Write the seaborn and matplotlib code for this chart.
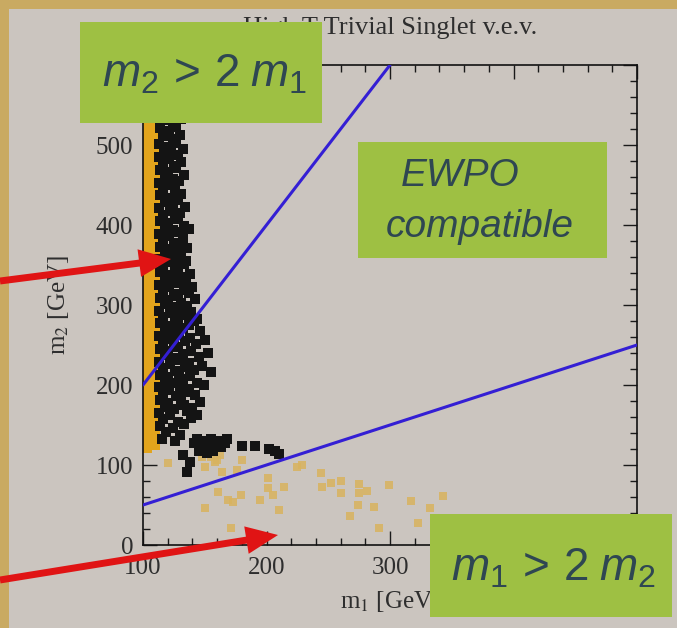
import matplotlib
matplotlib.use("Agg")
import matplotlib.pyplot as plt
import pandas as pd
import seaborn as sns
from matplotlib.patches import Rectangle, FancyArrowPatch
from matplotlib.ticker import MultipleLocator

# ---------------- scan points: m1 vs m2 [GeV] ----------------
# dense gold column along the m1 = 100 GeV edge (two columns of points)
strip_m1_left = 103
strip_m1_right = 109.5
strip_m2_left = [121, 128, 137, 144, 151, 160, 167, 175, 182, 190, 199, 206, 213, 221,
                 230, 237, 245, 252, 260, 268, 275, 284, 291, 298, 306, 315, 322, 330,
                 337, 345, 353, 361, 368, 376, 384, 392, 399, 407, 415, 423, 430, 438,
                 446, 454, 461, 469, 477, 485, 492, 500, 508, 516, 523, 531, 539, 547,
                 555, 563, 570, 578, 586, 594]
strip_m2_right = [125, 133, 141, 149, 157, 164, 172, 180, 188, 195, 203, 210, 218, 226,
                  234, 241, 249, 257, 264, 272, 280, 287, 295, 303, 311, 318, 326, 334,
                  341, 349, 357, 364, 372, 380, 388, 395, 403, 411, 419, 426, 434, 442,
                  450, 457, 465, 473, 481, 488, 496, 504, 512, 519, 527, 535, 543, 551,
                  559, 566, 574, 582, 590, 598]

# black points: vertical band near m1 ~ 115-150 plus a low-mass clump
black_m1 = [
    116, 124, 130,
    113, 121, 128,
    118, 126,
    114, 122, 130,
    117, 125,
    113, 120, 128,
    117, 124, 131,
    114, 121, 127,
    116, 124, 130,
    113, 119, 127,
    117, 123, 132,
    113, 121, 128,
    116, 125, 131,
    114, 120, 127,
    118, 124, 133,
    113, 121, 129,
    116, 126,
    114, 120, 131,
    118, 124, 128,
    113, 122, 134,
    116, 126, 130,
    114, 120, 128,
    118, 124, 133, 137,
    113, 121, 129,
    116, 125, 132,
    114, 120, 128, 136,
    118, 124, 131,
    113, 122, 129, 135,
    116, 126, 133,
    114, 120, 128, 138,
    118, 124, 131, 135,
    113, 121, 129, 140,
    116, 125, 133, 137,
    114, 120, 128, 142,
    118, 124, 131, 136,
    113, 122, 129, 139,
    116, 126, 134, 144,
    114, 120, 128, 137, 141,
    118, 124, 132, 146,
    113, 121, 129, 138,
    116, 125, 134, 143, 150,
    114, 120, 128, 139,
    118, 124, 132, 145, 153,
    113, 122, 130, 137,
    116, 126, 134, 141, 148,
    114, 120, 129, 138, 155,
    118, 124, 132, 144,
    113, 121, 130, 137, 149,
    116, 127, 135, 142,
    114, 120, 131, 146,
    118, 125, 133, 140,
    113, 122, 136, 144,
    116, 128, 139,
    114, 124, 133,
    119, 130,
    115, 126,
    141, 144, 146, 149, 151, 153, 155, 157, 159, 161, 163, 166,
    168, 145, 152, 180, 191, 202, 207, 210, 132, 138, 136,
]
black_m2 = [
    592, 588, 595,
    581, 578, 583,
    571, 568,
    561, 557, 563,
    551, 548,
    541, 538, 543,
    531, 528, 533,
    521, 517, 523,
    511, 508, 513,
    501, 498, 503,
    493, 490, 495,
    485, 482, 487,
    477, 474, 479,
    469, 466, 471,
    461, 458, 463,
    453, 450, 455,
    445, 442,
    437, 434, 439,
    429, 426, 431,
    421, 418, 423,
    413, 410, 415,
    405, 402, 407,
    397, 394, 399, 395,
    389, 386, 391,
    381, 378, 383,
    373, 370, 375, 371,
    365, 362, 367,
    357, 354, 359, 355,
    349, 346, 351,
    341, 338, 343, 339,
    333, 330, 335, 331,
    325, 322, 327, 323,
    317, 314, 319, 315,
    309, 306, 311, 307,
    301, 298, 303, 299,
    293, 290, 295, 291,
    285, 282, 287, 283,
    277, 274, 279, 275, 280,
    269, 266, 271, 267,
    261, 258, 263, 259,
    253, 250, 255, 251, 256,
    245, 242, 247, 243,
    237, 234, 239, 235, 240,
    229, 226, 231, 227,
    221, 218, 223, 219, 224,
    213, 210, 215, 211, 216,
    205, 202, 207, 203,
    197, 194, 199, 195, 200,
    189, 186, 191, 187,
    181, 178, 183, 179,
    173, 170, 175, 171,
    165, 162, 167, 163,
    157, 154, 159,
    149, 146, 151,
    141, 138,
    133, 130,
    128, 133, 124, 130, 121, 127, 133, 118, 125, 130, 122, 127,
    132, 118, 115, 124, 124, 120, 117, 114, 112, 104, 91,
]

# pale gold points scattered below the m1 = 2 m2 line
gold_m1 = [120, 148, 150, 155, 158, 160, 162, 164, 176, 180,
           225, 229, 244, 245, 252, 260, 260, 201, 201, 214,
           205, 195, 179, 169, 173, 161, 150, 210, 171, 275,
           275, 281, 299, 274, 268, 287, 291, 317, 332, 343, 323]
gold_m2 = [102, 110, 98, 110, 104, 106, 113, 91, 94, 106,
           98, 100, 90, 73, 77, 80, 65, 84, 71, 73,
           62, 56, 62, 56, 54, 66, 46, 44, 21, 76,
           65, 68, 75, 50, 36, 47, 21, 55, 46, 61, 27]

# kinematic boundaries
edge_a_m1 = [100, 300]   # m2 = 2 m1
edge_a_m2 = [200, 600]
edge_b_m1 = [100, 500]   # m1 = 2 m2
edge_b_m2 = [50, 250]

title_text = "High T Trivial Singlet v.e.v."
x_ticks = [100, 200, 300, 400, 500]
x_ticklabels = ["100", "200", "300", "", ""]
y_ticks = [0, 100, 200, 300, 400, 500, 600]
y_ticklabels = ["0", "100", "200", "300", "400", "500", ""]
x_range = (100, 500)
y_range = (0, 600)

# ---------------- styling ----------------
BG = "#cbc5bf"
FRAME = "#c9aa62"
GREEN = "#9ec043"
BOX_TXT = "#2f4752"
STRIP = "#e2a41c"
PALE = "#d9b35e"
DOT = "#141414"
BLUE = "#341fd4"
RED = "#e01414"
INK = "#2e2e2e"

sns.set_theme(style="ticks")
plt.rcParams["font.family"] = ["Liberation Serif", "DejaVu Serif"]
plt.rcParams["mathtext.rm"] = "Liberation Sans"
plt.rcParams["mathtext.it"] = "Liberation Sans:italic"

W, H = 677, 628
fig = plt.figure(figsize=(W / 100, H / 100), dpi=100)
fig.patch.set_facecolor(BG)

# slide frame
fig.add_artist(Rectangle((0, 1 - 9 / H), 1, 9 / H, transform=fig.transFigure,
                         color=FRAME, lw=0, zorder=0))
fig.add_artist(Rectangle((0, 0), 9 / W, 1, transform=fig.transFigure,
                         color=FRAME, lw=0, zorder=0))

ax = fig.add_axes([143 / W, 83 / H, 494 / W, 480 / H])
ax.set_facecolor(BG)

strip_df = pd.concat([
    pd.DataFrame({"m1": strip_m1_left, "m2": strip_m2_left}),
    pd.DataFrame({"m1": strip_m1_right, "m2": strip_m2_right}),
])
black_df = pd.DataFrame({"m1": black_m1, "m2": black_m2})
gold_df = pd.DataFrame({"m1": gold_m1, "m2": gold_m2})

sns.scatterplot(data=strip_df, x="m1", y="m2", ax=ax, marker="s", s=42,
                color=STRIP, linewidth=0, zorder=2)
sns.scatterplot(data=gold_df, x="m1", y="m2", ax=ax, marker="s", s=27,
                color=PALE, alpha=0.85, linewidth=0, zorder=2)
sns.scatterplot(data=black_df, x="m1", y="m2", ax=ax, marker="s", s=42,
                color=DOT, linewidth=0, zorder=3)

sns.lineplot(x=edge_a_m1, y=edge_a_m2, ax=ax, color=BLUE, lw=2.2,
             estimator=None, zorder=4)
sns.lineplot(x=edge_b_m1, y=edge_b_m2, ax=ax, color=BLUE, lw=2.2,
             estimator=None, zorder=4)

ax.set_xlim(*x_range)
ax.set_ylim(*y_range)
ax.set_xticks(x_ticks, x_ticklabels)
ax.set_yticks(y_ticks, y_ticklabels)
ax.xaxis.set_minor_locator(MultipleLocator(20))
ax.yaxis.set_minor_locator(MultipleLocator(20))
ax.tick_params(which="both", direction="in", top=True, right=True,
               color="#1a1a1a", width=1.0)
ax.tick_params(which="major", length=10, labelsize=18, labelcolor=INK)
ax.tick_params(axis="y", which="major", pad=7)
ax.tick_params(axis="x", which="major", pad=9)
ax.tick_params(which="minor", length=5)
for sp in ax.spines.values():
    sp.set_color("#111111")
    sp.set_linewidth(1.2)

ax.set_xlabel(r"m$_1$ [GeV]", fontsize=18, color=INK, labelpad=7,
              math_fontfamily="stix")
ax.set_ylabel(r"m$_2$ [GeV]", fontsize=18, color=INK, labelpad=18,
              math_fontfamily="stix")
ax.set_title(title_text, fontsize=19, color=INK, pad=22)


def px_box(x0, y0, x1, y1):
    """Green label panel given in pixel corners (top-left origin)."""
    fig.add_artist(Rectangle((x0 / W, 1 - y1 / H), (x1 - x0) / W, (y1 - y0) / H,
                             transform=fig.transFigure, color=GREEN, lw=0,
                             zorder=10))


def px_text(x, y, s, size):
    fig.text(x / W, 1 - y / H, s, ha="center", va="center", fontsize=size,
             color=BOX_TXT, zorder=11, math_fontfamily="custom",
             family=["Liberation Sans", "DejaVu Sans"])


px_box(80, 22, 322, 123)
px_text(204, 75, r"$m_2\,>\,2\;m_1$", 33)

px_box(358, 142, 607, 258)
fig.text(460 / W, 1 - 176 / H, "EWPO", ha="center", va="center", fontsize=28,
         style="italic", color=BOX_TXT, zorder=11, family="Liberation Sans")
fig.text(480 / W, 1 - 227 / H, "compatible", ha="center", va="center",
         fontsize=28, style="italic", color=BOX_TXT, zorder=11,
         family="Liberation Sans")

px_box(430, 514, 672, 617)
px_text(553, 569, r"$m_1\,>\,2\;m_2$", 33)

# red pointers
for (x0, y0), (x1, y1) in [((0, 281), (171, 259)), ((0, 580), (278, 535))]:
    fig.add_artist(FancyArrowPatch(
        (x0 / W, 1 - y0 / H), (x1 / W, 1 - y1 / H), transform=fig.transFigure,
        arrowstyle="simple,head_length=23,head_width=20,tail_width=5",
        mutation_scale=1, color=RED, lw=0, shrinkA=0, shrinkB=0, zorder=12))

fig.savefig("out.png", dpi=100, facecolor=BG)
